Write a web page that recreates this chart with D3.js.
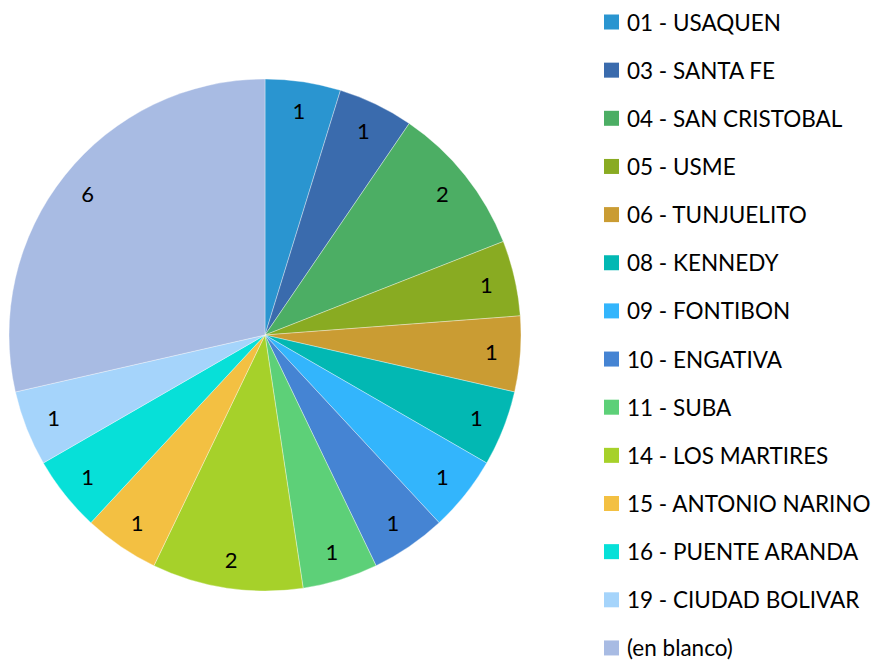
<html>
  <head>
    <style>
      body { margin: 0; background: #fff; }
      text { font-family: Lato, "Open Sans", sans-serif; fill: #000; }
    </style>
  </head>
  <body>
    <script src="https://d3js.org/d3.v7.min.js"></script>
    <script>
    var width = 876, height = 663;

    // data
    var categories = ["01 - USAQUEN", "03 - SANTA FE", "04 - SAN CRISTOBAL", "05 - USME", "06 - TUNJUELITO",
      "08 - KENNEDY", "09 - FONTIBON", "10 - ENGATIVA", "11 - SUBA", "14 - LOS MARTIRES",
      "15 - ANTONIO NARINO", "16 - PUENTE ARANDA", "19 - CIUDAD BOLIVAR", "(en blanco)"];
    var values = [1, 1, 2, 1, 1, 1, 1, 1, 1, 2, 1, 1, 1, 6];
    var colors = ["#2a95d0", "#3a6bad", "#4cae64", "#89ab22", "#ca9c33", "#02b8b3", "#33b5fc",
      "#4584d3", "#5dd078", "#a6d12a", "#f3c042", "#07e0d8", "#a5d4fb", "#a8bbe3"];

    var data = categories.map(function(c, i){ return {name: c, value: values[i], color: colors[i]}; });

    var svg = d3.select("body")
        .append("svg")
        .attr("width", width)
        .attr("height", height);

    var cx = 265, cy = 335, radius = 256;

    var pie = d3.pie().sort(null).value(function(d){ return d.value; });
    var arc = d3.arc().innerRadius(0).outerRadius(radius);
    var labelArc = d3.arc().innerRadius(227).outerRadius(227);

    var g = svg.append("g").attr("transform", "translate(" + cx + "," + cy + ")");

    var slices = g.selectAll("g.slice")
        .data(pie(data))
        .enter()
        .append("g")
        .attr("class", "slice");

    slices.append("path")
        .attr("d", arc)
        .attr("fill", function(d){ return d.data.color; })
        .attr("stroke", "rgba(255,255,255,0.5)")
        .attr("stroke-width", 0.7);

    slices.append("text")
        .attr("transform", function(d){ return "translate(" + labelArc.centroid(d) + ")"; })
        .attr("text-anchor", "middle")
        .attr("dominant-baseline", "central")
        .style("font-size", "22px")
        .text(function(d){ return d.data.value; });

    // legend
    var legend = svg.selectAll("g.legend")
        .data(data)
        .enter()
        .append("g")
        .attr("class", "legend")
        .attr("transform", function(d, i){ return "translate(604," + (22 + i * 48.15) + ")"; });

    legend.append("rect")
        .attr("x", 0).attr("y", -7.5)
        .attr("width", 15).attr("height", 15)
        .attr("fill", function(d){ return d.color; });

    legend.append("text")
        .attr("x", 23).attr("y", 0)
        .attr("dominant-baseline", "central")
        .style("font-size", "22.5px")
        .text(function(d){ return d.name; });
    </script>
  </body>
</html>
